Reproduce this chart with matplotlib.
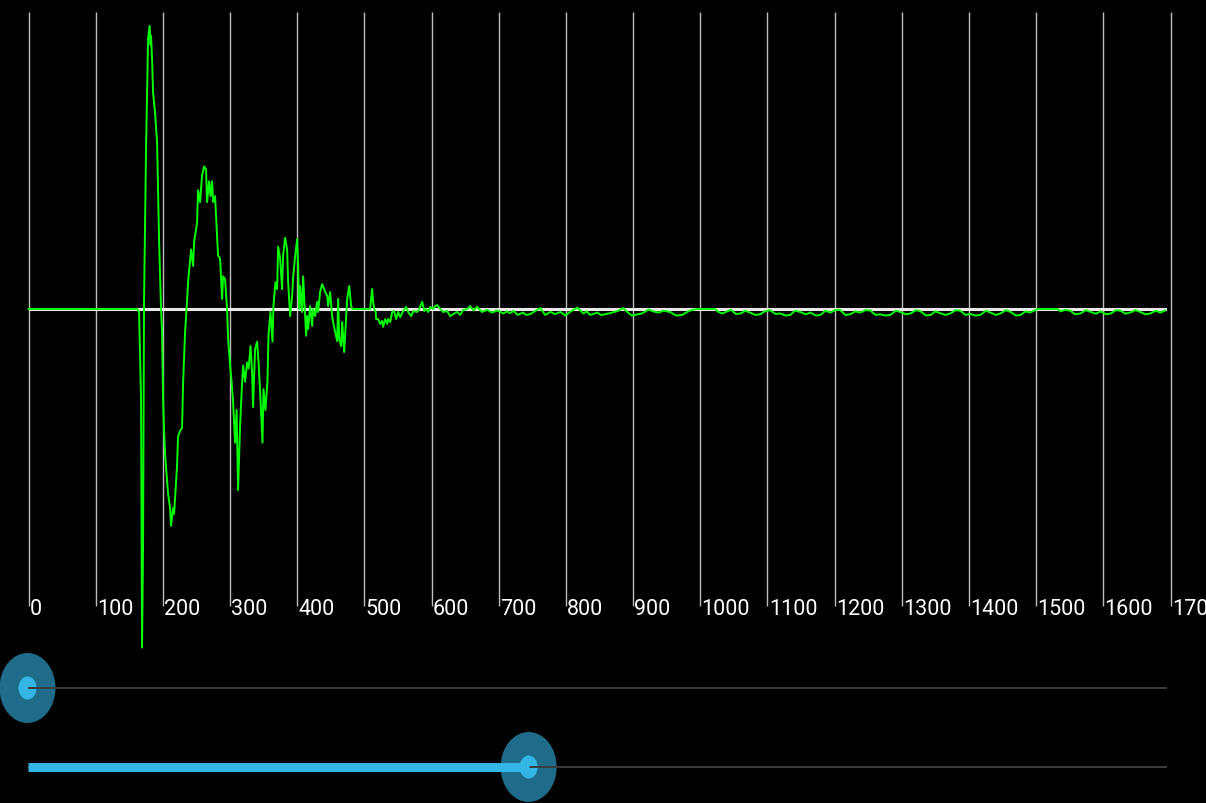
import matplotlib.pyplot as plt
from matplotlib.patches import Ellipse

# waveform samples (index, amplitude)
samples = [
    (0, 0), (161.6, 0), (164.6, -0.01), (167.5, -0.30), (169, -1.14), (170.5, -0.81),
    (172, 0.03), (175, 0.54), (178, 0.91), (180.2, 0.953), (181.7, 0.89), (182.4, 0.92),
    (184, 0.84), (185.4, 0.73), (188.4, 0.66), (191.4, 0.56), (194.4, 0.23), (197.3, 0.0),
    (198.8, -0.077), (200.3, -0.30), (201.8, -0.41), (203.3, -0.49), (207.7, -0.62),
    (210.7, -0.67), (212.2, -0.73), (215.2, -0.67), (216.7, -0.69), (221.1, -0.53),
    (222.6, -0.43), (225.6, -0.41), (228.6, -0.40), (230.1, -0.25), (233.1, -0.077),
    (236, 0.024), (237.5, 0.09), (242, 0.20), (245, 0.145), (246.5, 0.225), (250.9, 0.29),
    (252.4, 0.40), (255.4, 0.36), (258.4, 0.45), (261.4, 0.48), (264.3, 0.47), (265.8, 0.36),
    (268.8, 0.43), (271, 0.38), (273.3, 0.43), (274.8, 0.36), (277.7, 0.38), (280.7, 0.25),
    (282.2, 0.18), (285.2, 0.17), (288.2, 0.034), (289.7, 0.11), (292.6, 0.10), (295.6, 0.0),
    (297.1, -0.10), (300.1, -0.19), (302.3, -0.245), (304.5, -0.31), (307.5, -0.45),
    (309.8, -0.34), (310.5, -0.43), (312, -0.61), (315, -0.39), (318, -0.245), (319.5, -0.19),
    (322.4, -0.245), (325.4, -0.18), (327.6, -0.20), (330.6, -0.125), (333, -0.225),
    (334.3, -0.33), (337.3, -0.135), (340.3, -0.11), (342.5, -0.18), (345.3, -0.30),
    (348.3, -0.45), (349.8, -0.27), (352.7, -0.34), (355.7, -0.245), (357.2, -0.09),
    (360.2, -0.01), (363.2, -0.11), (364.6, 0.01), (367.6, 0.09), (370.1, 0.067),
    (371.6, 0.21), (374.6, 0.17), (377.5, 0.067), (379, 0.18), (382, 0.24), (385, 0.20),
    (386.5, 0.09), (389.5, -0.024), (392.5, 0.044), (394, 0.11), (397, 0.18), (399.9, 0.235),
    (401.4, 0.145), (402.9, 0.0), (404.3, 0.077), (407.3, -0.01), (408.8, 0.11),
    (411.8, -0.024), (413.3, -0.09), (414.8, -0.024), (416.3, -0.067), (419.2, 0.01),
    (422.2, -0.057), (423.7, 0.0), (426.7, -0.024), (429.7, 0.024), (431.1, -0.01),
    (434.1, 0.057), (437.1, 0.084), (440.1, 0.067), (441.6, 0.057), (444.6, 0.044),
    (446, 0.01), (449, 0.057), (452, -0.024), (453.5, -0.044), (456.5, -0.077),
    (459.5, -0.108), (461, 0.034), (462.5, -0.10), (465.4, -0.125), (466.9, -0.044),
    (468.4, -0.09), (469.9, -0.145), (472.9, -0.024), (474.4, 0.034), (477.4, 0.077),
    (480.3, 0.01), (481.8, 0.0), (508.6, 0.0), (510, 0.034), (511.6, 0.067), (513, 0.024),
    (514.6, 0.0), (516.8, -0.01), (517.5, -0.034), (520.5, -0.034), (523.5, -0.05),
    (526.4, -0.04), (527.9, -0.06), (531, -0.034), (533.9, -0.05), (535.4, -0.034),
    (538.4, -0.044), (541.4, -0.01), (544.3, -0.007), (547.3, -0.034), (550.3, -0.01),
    (553.3, -0.027), (557.7, -0.007), (562.2, 0.007), (565.2, -0.01), (569.7, -0.024),
    (572.7, -0.007), (578.6, -0.01), (581.6, 0.0), (586.1, 0.024), (589, -0.007),
    (592, 0.0), (595, -0.01), (598, 0.007), (602.5, 0.0), (605.4, 0.01), (608.4, 0.013),
    (612.9, 0.0), (617.4, -0.01), (623.3, -0.007), (627.8, -0.024), (632.2, -0.017),
    (638.2, -0.01), (642.6, -0.02), (647.1, -0.003), (653.1, 0.0), (657.5, 0.01),
    (662, -0.005), (668, 0.007), (675, -0.01), (683, -0.003), (690, -0.012), (698, -0.005),
    (707, -0.015), (712, -0.008), (717, -0.014), (722, -0.006), (728, -0.02), (736, -0.012),
    (741, -0.02), (747, -0.017), (757, -0.003), (762, 0.003), (769, -0.02), (777, -0.01),
    (784, -0.017), (792, -0.01), (799, -0.022), (806, -0.01), (817, 0.005), (826, -0.015),
    (831, -0.008), (836, -0.02), (847, -0.012), (852, -0.02), (858, -0.018), (869, -0.012),
    (878, -0.006), (885, 0.003), (893, -0.013), (898, -0.022), (903, -0.02), (913, -0.015),
    (923, -0.002), (930, -0.008), (938, -0.012), (945, -0.006), (955, -0.01), (964, -0.022),
    (973, -0.02), (982, -0.008), (990, -0.002), (996, 0.0), (1022, 0.0), (1027, -0.01),
    (1033, -0.015), (1040, -0.008), (1046, -0.003), (1053, -0.017), (1060, -0.015),
    (1067, -0.006), (1074, -0.012), (1082, -0.02), (1089, -0.018), (1096, -0.008),
    (1104, -0.004), (1112, -0.017), (1119, -0.015), (1127, -0.022), (1134, -0.02),
    (1141, -0.006), (1149, -0.01), (1157, -0.018), (1164, -0.012), (1172, -0.022),
    (1179, -0.02), (1186, -0.006), (1194, -0.012), (1201, -0.003), (1208, -0.003),
    (1216, -0.02), (1223, -0.018), (1231, -0.008), (1238, -0.012), (1246, -0.004),
    (1253, -0.005), (1261, -0.02), (1268, -0.018), (1276, -0.022), (1283, -0.02),
    (1291, -0.006), (1298, -0.01), (1306, -0.018), (1313, -0.015), (1321, -0.004),
    (1328, -0.008), (1336, -0.022), (1343, -0.02), (1350, -0.008), (1357, -0.014),
    (1365, -0.02), (1372, -0.015), (1380, -0.004), (1387, -0.006), (1395, -0.02),
    (1402, -0.017), (1410, -0.022), (1417, -0.02), (1425, -0.006), (1432, -0.012),
    (1440, -0.02), (1447, -0.015), (1455, -0.004), (1462, -0.01), (1470, -0.022),
    (1477, -0.02), (1484, -0.008), (1491, -0.012), (1502, 0.0), (1532, 0.0), (1536, -0.008),
    (1544, -0.003), (1551, -0.006), (1558, -0.018), (1566, -0.015), (1574, -0.004),
    (1581, -0.01), (1589, -0.016), (1596, -0.008), (1604, -0.018), (1611, -0.015),
    (1619, -0.004), (1626, -0.006), (1633, -0.016), (1640, -0.012), (1648, -0.004),
    (1655, -0.01), (1663, -0.018), (1670, -0.015), (1678, -0.006), (1685, -0.012),
    (1692, -0.005),
]
sample_idx = [s[0] for s in samples]
amplitude = [s[1] for s in samples]

grid_ticks = list(range(0, 1800, 100))
tick_labels = [str(t) for t in grid_ticks]
zero_span = [0, 1692]

# slider positions as fraction of track
slider_values = [0.0, 0.44]

W, H = 1206, 804
fig = plt.figure(figsize=(W / 100, H / 100), dpi=100)
fig.patch.set_facecolor("black")

# main plot area: x 28.5..1170.5 px, y 13..607 px
ax = fig.add_axes([28.5 / W, 1 - 607 / H, 1142 / W, 594 / H])
ax.set_facecolor("black")
ax.set_xlim(0, 1700)
ax.set_ylim(-1, 1)
for s in ax.spines.values():
    s.set_visible(False)
ax.set_xticks([])
ax.set_yticks([])

ax.vlines(grid_ticks, -1, 1, color="#BDBDBD", lw=1.0, zorder=1, clip_on=False)
ax.plot(zero_span, [0, 0], color="#E8E8E8", lw=2.2, zorder=2)
ax.plot(sample_idx, amplitude, color="#00FF00", lw=1.4, zorder=3, clip_on=False)

trans = ax.get_xaxis_transform()
for t, lab in zip(grid_ticks, tick_labels):
    ax.text(t + 2, -0.0135, lab, transform=trans, ha="left", va="baseline",
            color="white", fontsize=15.5, family="Roboto", clip_on=False)

# sliders, drawn in pixel coordinates
ov = fig.add_axes([0, 0, 1, 1])
ov.set_xlim(0, W)
ov.set_ylim(H, 0)
ov.axis("off")
ov.patch.set_alpha(0)

track_left, track_right = 28, 1167
slider_y = [689, 768]
holo = "#33B5E5"
for val, y in zip(slider_values, slider_y):
    cx = track_left + val * (track_right - track_left) - 0.5
    ov.plot([track_left, track_right], [y, y], color="#3C3C3C", lw=1.4, solid_capstyle="butt")
    if val > 0:
        ov.plot([track_left, cx], [y, y], color=holo, lw=6.5, solid_capstyle="butt")
    ov.add_patch(Ellipse((cx, y), 56, 70, color=holo, alpha=0.6, lw=0))
    ov.add_patch(Ellipse((cx, y), 18, 23, color=holo, lw=0))

fig.savefig("out.png", dpi=100, facecolor="black")
